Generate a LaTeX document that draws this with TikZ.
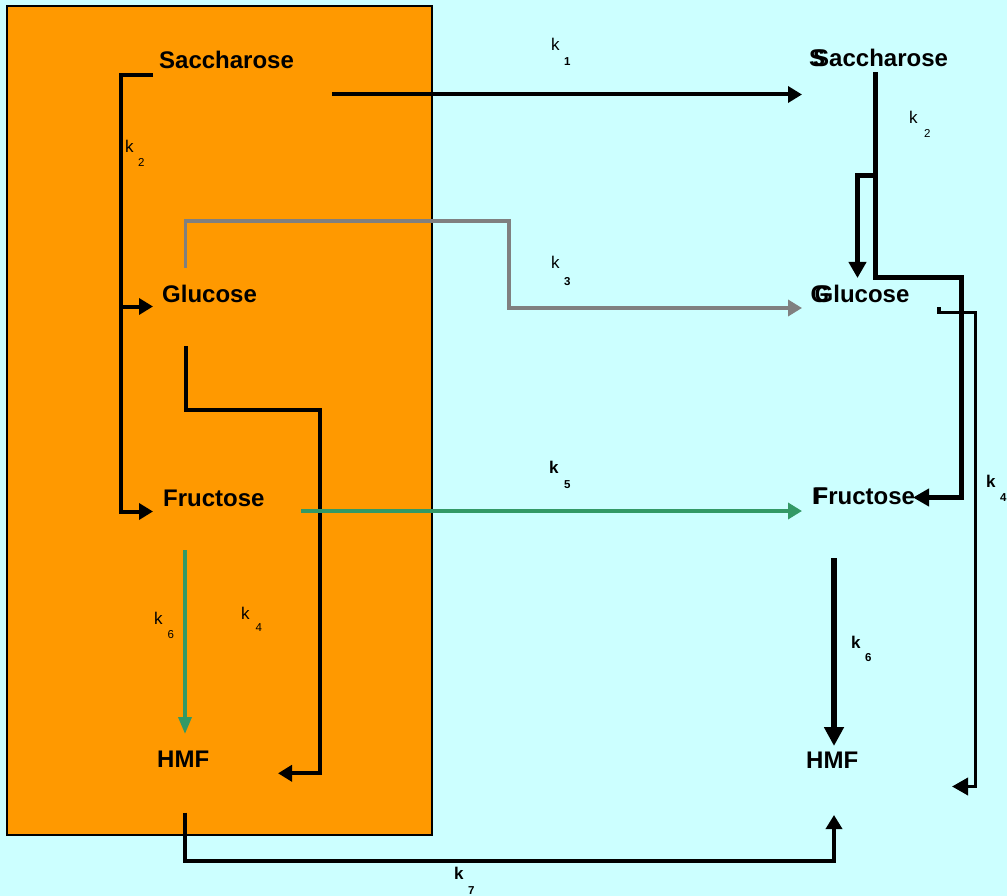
\documentclass[tikz,border=0pt]{standalone}
\usepackage{fontspec}
\setmainfont{Liberation Sans}
\usetikzlibrary{arrows.meta}
\definecolor{bgcyan}{HTML}{CCFFFF}
\definecolor{orng}{HTML}{FF9900}
\definecolor{grn}{HTML}{339966}
\definecolor{gry}{HTML}{808080}
\begin{document}
\begin{tikzpicture}[x=1pt,y=-1pt,
  chem/.style={anchor=base west, inner sep=0pt, font=\fontsize{24}{24}\selectfont\bfseries},
  klab/.style={anchor=base west, inner sep=0pt, font=\fontsize{17}{17}\selectfont},
  ksub/.style={anchor=base west, inner sep=0pt, font=\fontsize{11.5}{11.5}\selectfont},
  kbs/.style={font=\fontsize{11.5}{11.5}\selectfont\bfseries},
  conn/.style={line width=4pt, line join=miter},
  tipS/.style={-{Triangle[length=14pt,width=16pt]}},
  tipSr/.style={{Triangle[length=14pt,width=16pt]}-},
  tipM/.style={-{Triangle[length=16pt,width=17pt]}},
  tipL/.style={-{Triangle[length=19pt,width=19pt]}}]
\useasboundingbox (0,0) rectangle (1007,896);
\fill[bgcyan] (0,0) rectangle (1007,896);
\filldraw[fill=orng, draw=black, line width=1.2pt] (7,6) rectangle (432,835);

% chemicals, left
\node[chem] (sacL) at (159,69) {Saccharose};
\node[chem] (gluL) at (162,302) {Glucose};
\node[chem] (fruL) at (163,506) {Fructose};
\node[chem] (hmfL) at (157,767) {HMF};
% chemicals, right
\node[chem] (sacR) at (809,67) {\rlap{S}\kern4pt Saccharose};
\node[chem] (gluR) at (810.5,302) {\rlap{G}\kern4pt Glucose};
\node[chem] (fruR) at (812,504) {\rlap{F}\kern1.5pt Fructose};
\node[chem] (hmfR) at (806,768) {HMF};

% rate labels
\node[klab] (k1) at (551,51) {k};      \node[ksub,kbs] (k1s) at (564,66) {1};
\node[klab] (k2L) at (125,153) {k};    \node[ksub] (k2Ls) at (138,167) {2};
\node[klab] (k3) at (551,269) {k};     \node[ksub,kbs] (k3s) at (564,285) {3};
\node[klab] (k5) at (549,473) {\bfseries k};  \node[ksub,kbs] (k5s) at (564,488) {5};
\node[klab] (k6L) at (154,624) {k};    \node[ksub] (k6Ls) at (167.5,638) {6};
\node[klab] (k4L) at (241,619) {k};    \node[ksub] (k4Ls) at (255.5,631) {4};
\node[klab] (k7) at (454,879) {\bfseries k};  \node[ksub,kbs] (k7s) at (468,894) {7};
\node[klab] (k2R) at (909,124) {k};    \node[ksub] (k2Rs) at (924,137.5) {2};
\node[klab] (k4R) at (986,487) {\bfseries k}; \node[ksub,kbs] (k4Rs) at (1000,501) {4};
\node[klab] (k6R) at (851,648) {\bfseries k}; \node[ksub,kbs] (k6Rs) at (865,661) {6};

% connector end points
\coordinate (sacL-k2) at (153,75);
\coordinate (gluL-in) at (153,306.5);
\coordinate (fruL-in) at (153,511.5);
\coordinate (sacL-out) at (332,94.5);
\coordinate (sacR-in) at (802,94.5);
\coordinate (gluL-up) at (185.3,268);
\coordinate (gluR-in) at (802,308);
\coordinate (gluL-down) at (186,346);
\coordinate (hmfL-in) at (278,773.3);
\coordinate (fruL-out) at (301,511);
\coordinate (fruR-in) at (802,511);
\coordinate (fruL-down) at (185,550);
\coordinate (hmfL-top) at (185,734);
\coordinate (hmfL-down) at (185,812.5);
\coordinate (hmfR-bot) at (834,815);
\coordinate (sacR-down) at (875.5,72.5);
\coordinate (fruR-right) at (913,497.5);
\coordinate (gluR-top) at (857.5,278);
\coordinate (gluR-right) at (939,307);
\coordinate (hmfR-right) at (952,786.5);
\coordinate (fruR-down) at (834,558);
\coordinate (hmfR-top) at (834,746);

% left k2
\draw[conn,tipS] (sacL-k2) -- ++(-32,0) |- (fruL-in);
\draw[conn,tipSr] (gluL-in) -- ++(-32,0);
% k1
\draw[conn,tipS] (sacL-out) -- (sacR-in);
% k3 (grey)
\draw[conn,gry,line width=3.5pt,tipS] (gluL-up) |- (509,221) |- (gluR-in);
% left k4
\draw[conn,tipS] (gluL-down) |- (320,410) |- (hmfL-in);
% k5 (green)
\draw[conn,grn,line width=4.2pt,tipS] (fruL-out) -- (fruR-in);
% left k6 (green)
\draw[conn,grn,line width=3.5pt,-{Triangle[length=17pt,width=13pt]}] (fruL-down) -- (hmfL-top);
% k7
\draw[conn,tipS] (hmfL-down) -- (185,861) -| (hmfR-bot);
% right k2
\draw[conn,line width=4.2pt,tipM] (sacR-down) |- (961.5,277.5) |- (fruR-right);
\draw[conn,line width=4.2pt,tipM] (875.5,175.5) -| (gluR-top);
% right k4
\draw[conn,line width=3.6pt,tipM] (gluR-right) -- (939,312.5) -- (975.5,312.5) |- (hmfR-right);
% right k6
\draw[conn,line width=6pt,tipL] (fruR-down) -- (hmfR-top);
\end{tikzpicture}
\end{document}
